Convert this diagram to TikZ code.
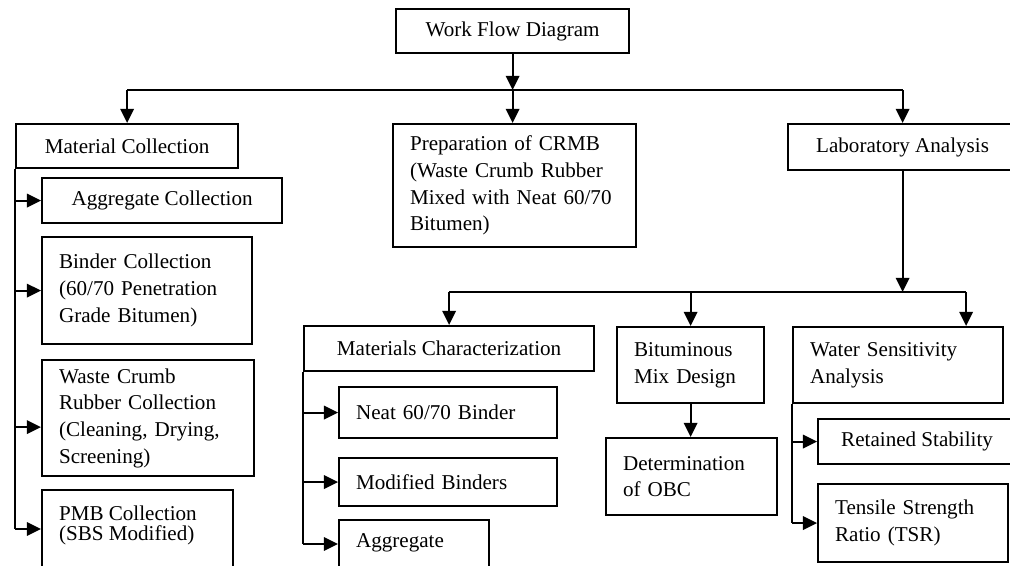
\documentclass[tikz,border=0pt]{standalone}
\usepackage{fontspec}
\setmainfont{Liberation Serif}
\usetikzlibrary{arrows.meta,positioning}

\begin{document}
\begin{tikzpicture}[
        x=0.025cm, y=-0.025cm,
        font=\fontsize{15}{19}\selectfont,
        box/.style={draw, line width=1.5pt, inner ysep=2pt, anchor=north west},
        midbox/.style={box, align=center, inner xsep=2pt},
        leftbox/.style={box, align=left, inner xsep=0.425cm},
        link/.style={line width=1.5pt},
        arr/.style={link, -{Triangle[length=10pt, width=9.5pt]}}
    ]
    \useasboundingbox (0,0) rectangle (1010,565);
    \clip (0,0) rectangle (1010,565);

    \node[midbox, minimum width=5.825cm, minimum height=1.1cm] (wfd) at (395,8) {Work Flow Diagram};

    \node[midbox, minimum width=5.55cm, minimum height=1.1cm] (matcol) at (15,123) {Material Collection};
    \node[leftbox, text width=5.225cm, minimum height=3.075cm] (prep) at (392,123)
        {Preparation of CRMB\\(Waste Crumb Rubber\\Mixed with Neat 60/70\\Bitumen)};
    \node[midbox, minimum width=5.725cm, minimum height=1.15cm] (lab) at (787,123) {Laboratory Analysis};

    \node[midbox, minimum width=6cm, minimum height=1.125cm] (aggcol) at (41,177) {Aggregate Collection};
    \node[leftbox, text width=4.4cm, minimum height=2.675cm] (bindcol) at (41,236)
        {Binder Collection\\(60/70 Penetration\\Grade Bitumen)};
    \node[leftbox, text width=4.45cm, minimum height=2.9cm] (crumb) at (41,359)
        {Waste Crumb\\Rubber Collection\\(Cleaning, Drying,\\Screening)};
    \node[box, inner xsep=0.425cm, inner ysep=0.4cm] (pmb) at (41,489)
        {\parbox[c][2.5cm][t]{3.925cm}{\fontsize{15}{13.8}\selectfont PMB Collection\\(SBS Modified)}};

    \node[midbox, minimum width=7.25cm, minimum height=1.125cm] (matchar) at (303,325) {Materials Characterization};
    \node[leftbox, text width=4.6cm, minimum height=1.275cm] (neat) at (338,386) {Neat 60/70 Binder};
    \node[leftbox, text width=4.6cm, minimum height=1.2cm] (modbind) at (338,457) {Modified Binders};
    \node[box, inner xsep=0.425cm, inner ysep=0.35cm] (agg) at (338,519)
        {\parbox[c][2cm][t]{2.9cm}{Aggregate}};

    \node[leftbox, text width=2.825cm, minimum height=1.9cm] (mixdes) at (616,326) {Bituminous\\Mix Design};
    \node[leftbox, text width=3.425cm, minimum height=1.925cm] (obc) at (605,437) {Determination\\of OBC};

    \node[leftbox, text width=4.4cm, minimum height=1.9cm] (wsa) at (792,326) {Water Sensitivity\\Analysis};
    \node[midbox, minimum width=4.95cm, minimum height=1.125cm] (retstab) at (817,418) {Retained Stability};
    \node[leftbox, text width=3.9cm, minimum height=1.95cm] (tsr) at (817,483) {Tensile Strength\\Ratio (TSR)};

    \coordinate (topbus) at (wfd.south |- 0,90);
    \draw[arr] (wfd) -- (topbus);
    \draw[link] (matcol.north |- topbus) -- (lab.north |- topbus);
    \draw[arr] (matcol.north |- topbus) -- (matcol);
    \draw[arr] (topbus) -- (topbus |- prep.north);
    \draw[arr] (lab.north |- topbus) -- (lab);

    \coordinate (crumbin) at ([yshift=-0.225cm]crumb.west);
    \coordinate (pmbin) at ([yshift=-1cm]pmb.north west);
    \draw[link] (matcol.south west) -- (matcol.south west |- pmbin);
    \foreach \n in {aggcol,bindcol}
        \draw[arr] (matcol.south west |- \n.west) -- (\n);
    \draw[arr] (matcol.south west |- crumbin) -- (crumbin);
    \draw[arr] (matcol.south west |- pmbin) -- (pmbin);

    \coordinate (lowbus) at (lab.south |- 0,292);
    \coordinate (wsatop) at ([xshift=-0.95cm]wsa.north east);
    \draw[arr] (lab) -- (lowbus);
    \draw[link] (matchar.north |- lowbus) -- (wsatop |- lowbus);
    \draw[arr] (matchar.north |- lowbus) -- (matchar);
    \draw[arr] (mixdes.north |- lowbus) -- (mixdes);
    \draw[arr] (wsatop |- lowbus) -- (wsatop);
    \draw[arr] (mixdes) -- (mixdes.south |- obc.north);

    \coordinate (aggin) at ([yshift=-0.625cm]agg.north west);
    \draw[link] (matchar.south west) -- (matchar.south west |- aggin);
    \foreach \n in {neat,modbind}
        \draw[arr] (matchar.south west |- \n.west) -- (\n);
    \draw[arr] (matchar.south west |- aggin) -- (aggin);

    \draw[link] (wsa.south west) -- (wsa.south west |- tsr.west);
    \foreach \n in {retstab,tsr}
        \draw[arr] (wsa.south west |- \n.west) -- (\n);
\end{tikzpicture}
\end{document}
